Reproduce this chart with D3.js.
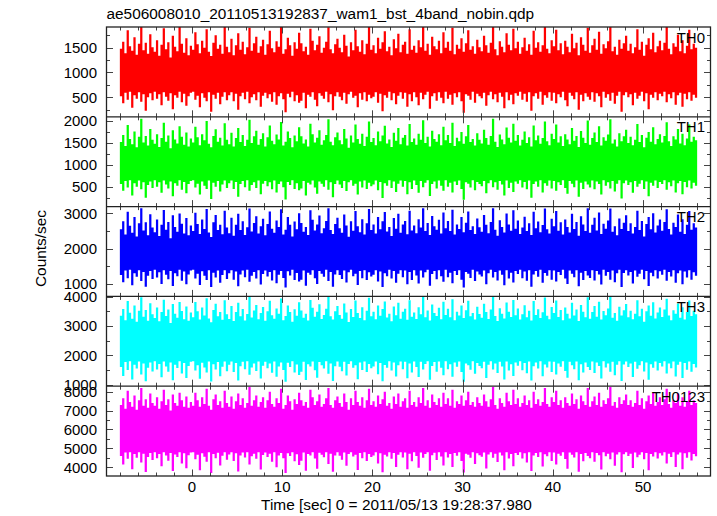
<!DOCTYPE html>
<html><head><meta charset="utf-8">
<script src="https://cdn.jsdelivr.net/npm/d3@7"></script>
<style>
body{margin:0;background:#fff}
svg{display:block}
text{font-family:"Liberation Sans",Arial,Helvetica,sans-serif;fill:#000}
</style>
</head><body><svg id="c" width="717" height="516"></svg>
<script>
const titleText = "ae506008010_20110513192837_wam1_bst_4band_nobin.qdp";
const xLabelText = "Time [sec] 0 = 2011/05/13 19:28:37.980";
const yLabelText = "Counts/sec";
// each value = highest / lowest rate seen within a 0.25 s slice of the light curve
const timeStart = -8, timeStep = 0.25;
const bands = ["TH0", "TH1", "TH2", "TH3", "TH0123"];

const th0Hi = [
1480,1620,1390,1850,1530,1440,1710,1360,1580,1920,1450,1600,1380,1770,1510,1420,
1650,1340,1560,1890,1470,1610,1300,1740,1520,1430,1950,1580,1400,1690,1350,1540,
1460,1810,1570,1390,1640,1500,1870,1420,1330,1600,1750,1480,1560,1380,1930,1520,
1410,1680,1350,1550,1790,1460,1620,1370,1510,1900,1440,1590,1720,1400,1530,1660,
1360,1570,1840,1490,1410,1630,1520,1950,1380,1470,1700,1550,1340,1610,1480,1800,
1590,1430,1520,1360,1880,1640,1450,1560,1730,1400,1500,1620,1910,1470,1390,1570,
1680,1500,1410,1760,1540,1320,1610,1450,1860,1530,1420,1650,1370,1580,1940,1460,
1550,1390,1700,1480,1610,1830,1430,1520,1350,1670,1490,1780,1410,1560,1620,1380,
1870,1460,1540,1400,1650,1510,1920,1440,1580,1360,1720,1530,1470,1640,1390,1810,
1500,1620,1440,1900,1370,1560,1480,1690,1420,1590,1850,1460,1530,1380,1660,1510,
1430,1740,1550,1400,1600,1950,1470,1350,1630,1520,1410,1790,1560,1450,1880,1490,
1620,1380,1510,1700,1440,1570,1360,1840,1500,1610,1420,1550,1930,1480,1390,1650,
1530,1860,1450,1590,1370,1640,1520,1410,1780,1490,1600,1350,1710,1560,1440,1900,
1400,1550,1680,1460,1820,1380,1570,1490,1630,1950,1430,1520,1360,1660,1480,1590,
1740,1440,1580,1390,1510,1870,1460,1620,1340,1560,1690,1470,1800,1410,1530,1640,
1450,1600,1920,1480,1370,1590,1520,1760,1430,1650,1390,1540,1860,1470,1580,1500];
const th0Lo = [
520,380,590,450,610,290,540,470,600,410,560,230,500,580,440,610,
470,560,340,600,510,430,580,260,540,490,610,400,570,330,520,590,
610,450,530,300,580,490,420,600,210,550,470,590,360,510,600,440,
540,600,420,570,250,520,590,460,610,380,500,560,440,600,310,530,
590,480,560,410,600,350,520,580,460,200,570,500,610,420,540,390,
430,590,280,550,510,600,450,320,580,530,470,610,400,560,240,520,
600,510,440,590,370,560,610,490,530,300,580,450,600,420,550,480,
510,600,390,570,220,540,490,610,440,580,360,530,600,470,590,310,
560,420,600,500,340,590,460,550,610,270,520,580,430,600,490,380,
610,470,550,350,580,500,600,420,190,560,530,450,610,390,570,520,
480,590,330,540,610,460,560,400,590,510,280,600,440,550,360,580,
530,610,450,570,410,600,230,520,580,470,610,350,540,490,600,430,
590,380,560,500,610,440,320,590,530,460,600,250,550,420,580,510,
450,600,410,580,520,300,610,490,560,430,590,370,530,610,210,540,
600,500,560,340,590,470,530,610,420,580,260,550,490,600,440,570,
520,610,400,560,480,600,350,540,590,310,570,460,600,430,550,490];

const th1Hi = [
1520,1680,1430,1910,1590,1470,1760,1400,1640,2050,1510,1660,1440,1820,1570,1480,
1700,1410,1610,1960,1530,1670,1380,1790,1580,1490,1880,1640,1460,1740,1420,1600,
1510,1870,1630,1450,1700,1560,2000,1480,1400,1660,1810,1530,1620,1440,1950,1570,
1470,1730,1420,1610,1840,1520,1680,1430,1570,2030,1500,1650,1780,1460,1590,1720,
1420,1630,1900,1550,1470,1690,1580,1980,1440,1530,1760,1610,1400,1670,1540,1860,
1650,1490,1580,1420,1940,1700,1510,1620,1790,1460,1560,1680,2040,1530,1450,1630,
1740,1560,1470,1820,1600,1390,1670,1510,1920,1590,1480,1710,1430,1640,1990,1520,
1610,1450,1760,1540,1670,1890,1490,1580,1410,1730,1550,1840,1470,1620,1680,1440,
1930,1520,1600,1460,1710,1570,2020,1500,1640,1420,1780,1590,1530,1700,1450,1870,
1560,1680,1500,1960,1430,1620,1540,1750,1480,1650,1910,1520,1590,1440,1720,1570,
1490,1800,1610,1460,1660,2050,1530,1410,1690,1580,1470,1850,1620,1510,1940,1550,
1680,1440,1570,1760,1500,1630,1420,1900,1560,1670,1480,1610,1990,1540,1450,1710,
1590,1920,1510,1650,1430,1700,1580,1470,1840,1550,1660,1410,1770,1620,1500,2010,
1460,1610,1740,1520,1880,1440,1630,1550,1690,2040,1490,1580,1420,1720,1540,1650,
1800,1500,1640,1450,1570,1930,1520,1680,1400,1620,1750,1530,1860,1470,1590,1700,
1510,1660,1970,1540,1430,1650,1580,1820,1490,1710,1450,1600,1920,1530,1640,1560];
const th1Lo = [
560,410,630,480,650,300,580,500,640,440,600,250,540,620,470,650,
500,600,360,640,550,460,620,280,580,520,650,430,610,350,560,630,
650,480,570,320,620,520,450,640,220,590,500,630,390,550,640,470,
580,640,450,610,270,560,630,490,650,410,540,600,470,640,330,570,
630,510,600,440,640,370,560,620,490,210,610,540,650,450,580,420,
460,630,300,590,550,640,480,340,620,570,500,650,430,600,260,560,
640,550,470,630,400,600,650,520,570,320,620,480,640,450,590,510,
550,640,420,610,240,580,520,650,470,620,380,570,640,500,630,330,
600,450,640,540,360,630,490,590,650,290,560,620,460,640,520,410,
650,500,590,370,620,540,640,450,200,600,570,480,650,420,610,560,
510,630,350,580,650,490,600,430,630,550,300,640,470,590,380,620,
570,650,480,610,440,640,250,560,620,500,650,370,580,520,640,460,
630,410,600,540,650,470,340,630,570,490,640,270,590,450,620,550,
480,640,440,620,560,320,650,520,600,460,630,390,570,650,230,580,
640,540,600,360,630,500,570,650,450,620,280,590,520,640,470,610,
560,650,430,600,510,640,370,580,630,330,610,490,640,460,590,520];

const th2Hi = [
2550,2780,2400,3050,2650,2450,2900,2350,2720,3150,2520,2750,2380,2980,2600,2470,
2830,2360,2680,3100,2540,2760,2300,2950,2620,2480,3000,2710,2430,2870,2380,2660,
2500,3020,2700,2420,2830,2560,3130,2460,2330,2750,2960,2530,2680,2410,3080,2600,
2440,2880,2370,2680,2990,2530,2780,2390,2610,3140,2490,2730,2920,2430,2640,2850,
2380,2700,3060,2570,2450,2800,2620,3120,2400,2540,2900,2680,2350,2770,2550,3010,
2730,2480,2620,2390,3090,2820,2520,2690,2940,2440,2580,2790,3150,2530,2420,2700,
2880,2580,2450,2970,2660,2340,2780,2510,3070,2640,2470,2840,2400,2720,3130,2530,
2690,2430,2900,2550,2780,3040,2490,2620,2360,2870,2570,2990,2450,2690,2790,2410,
3080,2520,2660,2440,2840,2600,3150,2500,2730,2390,2930,2640,2540,2820,2430,3030,
2580,2790,2500,3110,2400,2690,2560,2900,2470,2740,3060,2530,2640,2420,2860,2610,
2480,2960,2680,2440,2760,3150,2540,2370,2810,2620,2460,3000,2690,2510,3090,2570,
2800,2420,2600,2910,2500,2720,2390,3050,2580,2770,2470,2670,3140,2550,2430,2850,
2640,3070,2510,2750,2400,2830,2620,2460,2990,2560,2760,2370,2920,2690,2500,3150,
2450,2680,2880,2520,3030,2420,2710,2570,2800,3140,2480,2640,2380,2860,2560,2740,
2950,2500,2720,2430,2620,3080,2530,2790,2350,2700,2900,2550,3010,2460,2660,2830,
2510,2760,3120,2560,2400,2740,2620,2970,2480,2840,2420,2680,3070,2540,2720,2600];
const th2Lo = [
1250,1050,1380,1160,1400,960,1300,1200,1390,1080,1340,920,1230,1370,1140,1400,
1180,1330,1000,1390,1260,1130,1370,940,1300,1220,1400,1090,1350,990,1270,1380,
1400,1150,1290,970,1360,1230,1110,1390,910,1320,1180,1380,1030,1250,1390,1140,
1300,1390,1120,1350,930,1270,1380,1190,1400,1060,1230,1340,1150,1390,980,1280,
1380,1210,1340,1100,1390,1020,1260,1370,1170,900,1360,1240,1400,1110,1310,1070,
1120,1380,950,1320,1260,1390,1160,1000,1370,1290,1200,1400,1080,1340,920,1270,
1390,1250,1140,1380,1040,1330,1400,1220,1290,970,1370,1160,1390,1110,1330,1210,
1260,1390,1070,1350,910,1300,1220,1400,1150,1370,1030,1290,1390,1190,1380,990,
1340,1110,1390,1240,1010,1380,1180,1330,1400,950,1280,1370,1130,1390,1220,1060,
1400,1190,1320,1020,1370,1250,1390,1120,900,1340,1290,1170,1400,1080,1350,1270,
1210,1380,990,1300,1400,1180,1340,1100,1380,1260,960,1390,1150,1320,1040,1370,
1280,1400,1160,1350,1090,1390,920,1270,1370,1200,1400,1030,1310,1230,1390,1120,
1380,1070,1340,1250,1400,1150,1000,1380,1290,1190,1390,930,1320,1110,1370,1240,
1170,1390,1100,1370,1270,980,1400,1230,1340,1120,1380,1050,1300,1400,910,1310,
1390,1240,1340,1010,1380,1200,1290,1400,1130,1370,940,1320,1220,1390,1150,1360,
1260,1400,1090,1340,1210,1390,1030,1300,1380,990,1350,1180,1390,1120,1330,1230];

const th3Hi = [
3350,3580,3200,3850,3450,3250,3700,3150,3520,3980,3320,3550,3180,3780,3400,3270,
3630,3160,3480,3900,3340,3560,3100,3750,3420,3280,3820,3510,3230,3670,3180,3460,
3300,3820,3500,3220,3630,3360,3950,3260,3130,3550,3760,3330,3480,3210,3880,3400,
3240,3680,3170,3480,3790,3330,3580,3190,3410,4000,3290,3530,3720,3230,3440,3650,
3180,3500,3860,3370,3250,3600,3420,3940,3200,3340,3700,3480,3150,3570,3350,3810,
3530,3280,3420,3190,3890,3620,3320,3490,3740,3240,3380,3590,3990,3330,3220,3500,
3680,3380,3250,3770,3460,3140,3580,3310,3870,3440,3270,3640,3200,3520,3960,3330,
3490,3230,3700,3350,3580,3840,3290,3420,3160,3670,3370,3790,3250,3490,3590,3210,
3880,3320,3460,3240,3640,3400,3990,3300,3530,3190,3730,3440,3340,3620,3230,3830,
3380,3590,3300,3910,3200,3490,3360,3700,3270,3540,3860,3330,3440,3220,3660,3410,
3280,3760,3480,3240,3560,4000,3340,3170,3610,3420,3260,3800,3490,3310,3890,3370,
3600,3220,3400,3710,3300,3520,3190,3850,3380,3570,3270,3470,3970,3350,3230,3650,
3440,3870,3310,3550,3200,3630,3420,3260,3790,3360,3560,3170,3720,3490,3300,3980,
3250,3480,3680,3320,3830,3220,3510,3370,3600,3990,3280,3440,3180,3660,3360,3540,
3750,3300,3520,3230,3420,3880,3330,3590,3150,3500,3700,3350,3810,3260,3460,3630,
3310,3560,3930,3360,3200,3540,3420,3770,3280,3640,3220,3480,3870,3340,3520,3400];
const th3Lo = [
1600,1300,1770,1500,1800,1180,1680,1550,1790,1350,1720,1120,1580,1760,1450,1800,
1520,1710,1250,1790,1620,1440,1760,1150,1680,1570,1800,1380,1740,1230,1640,1780,
1800,1480,1660,1200,1750,1590,1420,1790,1110,1700,1520,1770,1290,1610,1790,1460,
1680,1790,1430,1740,1140,1630,1780,1530,1800,1340,1590,1720,1470,1790,1210,1650,
1780,1560,1720,1410,1790,1270,1620,1760,1500,1100,1750,1600,1800,1420,1690,1330,
1440,1780,1160,1700,1620,1790,1490,1240,1770,1660,1550,1800,1370,1720,1130,1630,
1790,1610,1460,1780,1310,1710,1800,1580,1660,1190,1760,1500,1790,1430,1710,1560,
1620,1790,1360,1740,1120,1670,1580,1800,1480,1760,1280,1660,1790,1530,1780,1220,
1720,1420,1790,1600,1260,1780,1520,1710,1800,1170,1640,1770,1440,1790,1580,1320,
1800,1530,1700,1270,1760,1610,1790,1430,1100,1720,1660,1510,1800,1370,1740,1640,
1560,1780,1230,1680,1800,1520,1720,1400,1780,1620,1180,1790,1480,1700,1300,1760,
1650,1800,1490,1740,1390,1790,1140,1630,1760,1550,1800,1290,1690,1590,1790,1430,
1780,1350,1720,1610,1800,1470,1240,1780,1660,1530,1790,1150,1700,1420,1760,1600,
1500,1790,1400,1760,1640,1210,1800,1590,1720,1440,1780,1320,1680,1800,1130,1690,
1790,1600,1720,1260,1780,1540,1660,1800,1450,1760,1170,1700,1580,1790,1480,1740,
1620,1800,1380,1720,1560,1790,1280,1680,1780,1230,1740,1510,1790,1440,1710,1590];

const th0123Hi = [
7300,7650,7100,8050,7450,7200,7800,7050,7550,8200,7250,7600,7150,7900,7400,7250,
7700,7100,7500,8100,7300,7600,7000,7850,7400,7250,7950,7550,7200,7750,7150,7450,
7250,7950,7550,7200,7700,7350,8150,7250,7050,7600,7850,7300,7500,7150,8050,7400,
7200,7750,7100,7500,7900,7300,7650,7150,7400,8250,7250,7550,7800,7200,7450,7700,
7150,7550,8000,7350,7200,7650,7400,8150,7100,7300,7800,7500,7050,7600,7350,7950,
7550,7250,7450,7150,8100,7700,7300,7500,7850,7200,7350,7650,8200,7300,7150,7550,
7750,7400,7200,7900,7450,7050,7650,7300,8050,7450,7250,7700,7150,7550,8150,7300,
7500,7200,7800,7350,7600,8000,7250,7400,7100,7750,7350,7900,7200,7500,7650,7150,
8050,7300,7450,7200,7700,7400,8200,7250,7550,7150,7850,7450,7300,7650,7200,7950,
7350,7650,7250,8100,7150,7500,7350,7800,7250,7550,8000,7300,7450,7200,7700,7400,
7250,7850,7500,7200,7600,8250,7300,7100,7650,7400,7200,7950,7500,7300,8100,7350,
7650,7200,7400,7800,7300,7550,7150,8000,7350,7600,7250,7450,8200,7350,7200,7700,
7450,8050,7300,7550,7150,7700,7400,7250,7900,7350,7600,7100,7800,7500,7300,8200,
7200,7500,7750,7300,7950,7200,7550,7350,7650,8250,7250,7450,7150,7700,7350,7550,
7850,7300,7550,7200,7400,8050,7300,7650,7100,7500,7800,7350,7950,7250,7450,7700,
7300,7600,8150,7350,7150,7550,7400,7900,7250,7700,7200,7500,8050,7300,7550,7400];
const th0123Lo = [
4600,4150,4780,4450,4800,3900,4700,4500,4790,4250,4720,3750,4550,4760,4380,4800,
4480,4710,4050,4790,4620,4350,4760,3800,4680,4540,4800,4200,4740,3950,4640,4780,
4800,4420,4660,3850,4750,4560,4300,4790,3700,4700,4480,4770,4100,4610,4790,4400,
4680,4790,4330,4740,3780,4630,4780,4520,4800,4150,4590,4720,4450,4790,3880,4650,
4780,4550,4720,4300,4790,4000,4620,4760,4480,3700,4750,4600,4800,4320,4690,4120,
4350,4780,3820,4700,4620,4790,4460,3920,4770,4660,4530,4800,4180,4720,3760,4630,
4790,4610,4400,4780,4080,4710,4800,4570,4660,3860,4760,4480,4790,4330,4710,4550,
4620,4790,4200,4740,3740,4670,4570,4800,4450,4760,4020,4660,4790,4520,4780,3900,
4720,4320,4790,4600,3980,4780,4510,4710,4800,3820,4640,4770,4380,4790,4570,4100,
4800,4520,4700,4020,4760,4610,4790,4340,3720,4720,4660,4500,4800,4170,4740,4640,
4560,4780,3940,4680,4800,4510,4720,4280,4780,4620,3850,4790,4460,4700,4060,4760,
4650,4800,4470,4740,4250,4790,3800,4630,4760,4540,4800,4040,4690,4590,4790,4330,
4780,4150,4720,4610,4800,4440,3930,4780,4660,4520,4790,3760,4700,4320,4760,4600,
4480,4790,4300,4760,4640,3880,4800,4580,4720,4420,4780,4080,4680,4800,3740,4690,
4790,4600,4720,3960,4780,4530,4660,4800,4430,4760,3840,4700,4570,4790,4460,4740,
4620,4800,4200,4720,4550,4790,4010,4680,4780,3900,4740,4500,4790,4360,4710,4590];

const xMajorTicks = [0, 10, 20, 30, 40, 50];
const yMajorTicks = [[500,1000,1500],[500,1000,1500,2000],[1000,2000,3000],[1000,2000,3000,4000],[4000,5000,6000,7000,8000]];
const yMinorStep = [250, 250, 500, 500, 500];
const xMinorStep = 2;
const yDomains = [[107,1917],[46,2097],[645,3196],[949,4010],[3540,8290]];
const xDomain = [-9.48, 57.48];

const highs = [th0Hi, th1Hi, th2Hi, th3Hi, th0123Hi];
const lows = [th0Lo, th1Lo, th2Lo, th3Lo, th0123Lo];
const colors = ["#ff0000", "#00ff00", "#0000ff", "#00ffff", "#ff00ff"];

const svg = d3.select("#c");
const L = 106.5, R = 710.5, T = 27, B = 476;
const nP = highs.length;
const ph = (B - T) / nP;

const x = d3.scaleLinear().domain(xDomain).range([L, R]);
const defs = svg.append("defs");

highs.forEach((hi, p) => {
  const lo = lows[p];
  const top = T + p * ph, bot = top + ph;
  const y = d3.scaleLinear().domain(yDomains[p]).range([bot, top]);
  const rows = hi.map((h, i) => ({ t: timeStart + i * timeStep, hi: h, lo: lo[i] }));
  const last = rows[rows.length - 1];
  rows.push({ t: last.t + timeStep, hi: last.hi, lo: last.lo });

  defs.append("clipPath").attr("id", "clip" + p)
    .append("rect").attr("x", L).attr("y", top).attr("width", R - L).attr("height", ph);
  const area = d3.area().curve(d3.curveStepAfter)
    .x(d => x(d.t)).y0(d => y(d.lo)).y1(d => y(d.hi));
  svg.append("path").datum(rows).attr("d", area)
    .attr("clip-path", "url(#clip" + p + ")")
    .attr("fill", colors[p]).attr("stroke", "none");

  // y ticks
  const ticksY = d3.range(Math.ceil(yDomains[p][0] / yMinorStep[p]) * yMinorStep[p], yDomains[p][1], yMinorStep[p]);
  const tk = svg.append("g").attr("stroke", "#444").attr("stroke-width", 1);
  ticksY.forEach(v => {
    const major = yMajorTicks[p].includes(v);
    const len = major ? 6.5 : 3.5;
    const yy = Math.round(y(v)) + 0.5;
    tk.append("line").attr("x1", L).attr("x2", L + len).attr("y1", yy).attr("y2", yy);
    tk.append("line").attr("x1", R).attr("x2", R - len).attr("y1", yy).attr("y2", yy);
  });
  // x ticks top & bottom of this panel
  d3.range(-8, 57, xMinorStep).forEach(v => {
    const major = xMajorTicks.includes(v);
    const len = major ? 6.5 : 3.5;
    const xx = Math.round(x(v)) + 0.5;
    tk.append("line").attr("x1", xx).attr("x2", xx).attr("y1", top).attr("y2", top + len);
    tk.append("line").attr("x1", xx).attr("x2", xx).attr("y1", bot).attr("y2", bot - len);
  });
  // y labels
  yMajorTicks[p].forEach(v => {
    svg.append("text").attr("x", 97).attr("y", y(v) + 5.3)
      .attr("text-anchor", "end").attr("font-size", 15).text(v);
  });
  // band label
  svg.append("text").attr("x", 705).attr("y", top + 15.5)
    .attr("text-anchor", "end").attr("font-size", 15).text(bands[p]);
});

// frame and separators
svg.append("rect").attr("x", L).attr("y", T).attr("width", R - L).attr("height", B - T)
  .attr("fill", "none").attr("stroke", "#222").attr("stroke-width", 1.3);
for (let p = 1; p < nP; p++) {
  svg.append("line").attr("x1", L).attr("x2", R).attr("y1", T + p * ph).attr("y2", T + p * ph)
    .attr("stroke", "#222").attr("stroke-width", 1.3);
}

// x labels
xMajorTicks.forEach(v => {
  svg.append("text").attr("x", x(v)).attr("y", 491.5).attr("text-anchor", "middle")
    .attr("font-size", 15).text(v);
});
svg.append("text").attr("x", 396.5).attr("y", 509.5).attr("text-anchor", "middle")
  .attr("font-size", 15.4).text(xLabelText);
svg.append("text").attr("x", 106.5).attr("y", 18.5).attr("font-size", 15.4).text(titleText);
svg.append("text").attr("transform", "translate(46,248.5) rotate(-90)")
  .attr("text-anchor", "middle").attr("font-size", 15.4).text(yLabelText);
</script>
</body></html>
